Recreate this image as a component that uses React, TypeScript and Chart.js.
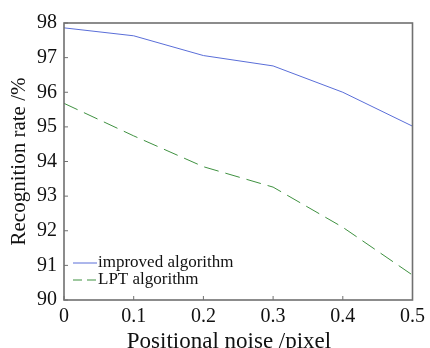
import React, { useEffect, useRef } from "react";
import { Chart, registerables } from "chart.js";

Chart.register(...registerables);

const noise = [0, 0.1, 0.2, 0.3, 0.4, 0.5];
const improved = [97.86, 97.63, 97.06, 96.76, 96.0, 95.02];
const lpt = [95.68, 94.74, 93.85, 93.26, 92.1, 90.72];
const seriesLabels = ["improved algorithm", "LPT algorithm"];
const xTitle = "Positional noise /pixel";
const yTitle = "Recognition rate /%";

const FONT = "'Liberation Serif', 'Times New Roman', serif";
const FRAME = "#707070";

const framePlugin = {
  id: "frameAndLegend",
  afterDraw(chart: any) {
    const { ctx, chartArea } = chart;
    const { left, right, top, bottom } = chartArea;
    ctx.save();
    ctx.strokeStyle = FRAME;
    ctx.lineWidth = 1.6;
    ctx.strokeRect(left, top, right - left, bottom - top);
    // inward ticks
    ctx.lineWidth = 1;
    const xs = chart.scales.x;
    xs.ticks.forEach((t: any) => {
      const px = xs.getPixelForValue(t.value);
      ctx.beginPath();
      ctx.moveTo(px, bottom);
      ctx.lineTo(px, bottom - 4);
      ctx.stroke();
    });
    const ys = chart.scales.y;
    ys.ticks.forEach((t: any) => {
      const py = ys.getPixelForValue(t.value);
      ctx.beginPath();
      ctx.moveTo(left, py);
      ctx.lineTo(left + 4, py);
      ctx.stroke();
    });
    // legend
    const rows = [bottom - 37, bottom - 20];
    chart.data.datasets.forEach((ds: any, i: number) => {
      const y = rows[i];
      ctx.strokeStyle = ds.borderColor;
      ctx.lineWidth = 1;
      ctx.setLineDash(ds.borderDash && ds.borderDash.length ? [9, 5] : []);
      ctx.beginPath();
      ctx.moveTo(left + 9, y);
      ctx.lineTo(left + 33, y);
      ctx.stroke();
      ctx.setLineDash([]);
      ctx.fillStyle = "#111";
      ctx.font = `17px ${FONT}`;
      ctx.textBaseline = "middle";
      ctx.textAlign = "left";
      ctx.fillText(ds.label, left + 34, y);
    });
    // x axis title
    ctx.fillStyle = "#111";
    ctx.font = `23px ${FONT}`;
    ctx.textAlign = "center";
    ctx.textBaseline = "alphabetic";
    ctx.fillText(xTitle, 229, 348);
    ctx.restore();
  },
};

export default function App() {
  const ref = useRef<HTMLCanvasElement>(null);
  useEffect(() => {
    const canvas = ref.current!;
    const chart = new Chart(canvas, {
      type: "line",
      data: {
        datasets: [
          {
            label: seriesLabels[0],
            data: noise.map((x, i) => ({ x, y: improved[i] })),
            borderColor: "#5a6ed8",
            borderWidth: 1,
            pointRadius: 0,
            tension: 0,
          },
          {
            label: seriesLabels[1],
            data: noise.map((x, i) => ({ x, y: lpt[i] })),
            borderColor: "#3f9140",
            borderWidth: 1,
            borderDash: [15, 7],
            pointRadius: 0,
            tension: 0,
          },
        ],
      },
      options: {
        animation: false,
        responsive: false,
        devicePixelRatio: 1,
        layout: { padding: { top: 23, right: 15, left: 0, bottom: 0 } },
        plugins: { legend: { display: false }, tooltip: { enabled: false } },
        scales: {
          x: {
            type: "linear",
            min: 0,
            max: 0.5,
            grid: { display: false, drawTicks: false },
            border: { display: false },
            ticks: {
              stepSize: 0.1,
              padding: 5,
              color: "#111",
              font: { family: FONT, size: 20 },
              maxRotation: 0,
              callback: (v: any) => String(Math.round(Number(v) * 10) / 10),
            },
            title: { display: false },
            afterFit: (s: any) => {
              s.height = 48;
            },
          },
          y: {
            min: 90,
            max: 98,
            grid: { display: false, drawTicks: false },
            border: { display: false },
            ticks: {
              stepSize: 1,
              padding: 7,
              color: "#111",
              font: { family: FONT, size: 20 },
            },
            title: {
              display: true,
              text: yTitle,
              color: "#111",
              font: { family: FONT, size: 21 },
              padding: { top: 7, bottom: 0 },
            },
            afterFit: (s: any) => {
              s.width = 64;
            },
          },
        },
      },
      plugins: [framePlugin],
    });
    return () => chart.destroy();
  }, []);
  return (
    <div style={{ position: "absolute", left: 0, top: 0, width: 430, height: 348, background: "#fff" }}>
      <canvas ref={ref} width={430} height={348} />
    </div>
  );
}
